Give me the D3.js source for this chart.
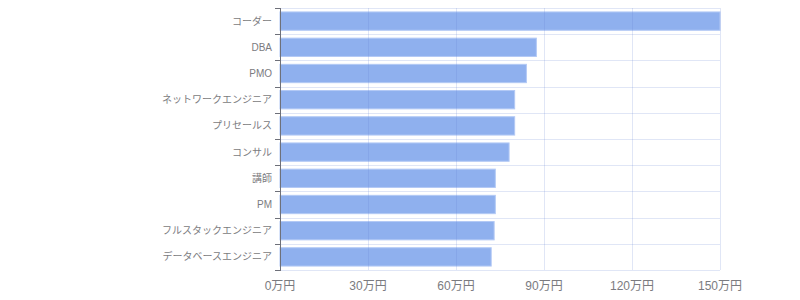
<!DOCTYPE html>
<html><head><meta charset="utf-8">
<script src="https://cdn.jsdelivr.net/npm/d3@7/dist/d3.min.js"></script>
<style>body{margin:0;background:#fff}svg{display:block}</style>
</head><body><svg id="c" width="800" height="300"></svg>
<script>
const categories = ["コーダー","DBA","PMO","ネットワークエンジニア","プリセールス","コンサル","講師","PM","フルスタックエンジニア","データベースエンジニア"];
const values = [150, 87.4, 84, 80, 80, 78.1, 73.4, 73.4, 73, 72];
const xTicks = [0, 30, 60, 90, 120, 150];
const tickSuffix = "万円";

const svg = d3.select("#c");
const m = {l: 280, r: 720, t: 8, b: 270};
const font = "'Liberation Sans', 'Noto Sans CJK JP', sans-serif";
const textColor = "#7b7b80";
const x = d3.scaleLinear().domain([0, 150]).range([m.l, m.r]);
const y = d3.scaleBand().domain(categories).range([m.t, m.b]).paddingInner(0.3).paddingOuter(0.15);
const yb = d3.scaleBand().domain(categories).range([m.t, m.b]);

// bars
svg.append("g").selectAll("rect").data(categories).join("rect")
  .attr("x", x(0))
  .attr("y", (d) => y(d))
  .attr("width", (d, i) => x(Math.min(values[i], 150)) - x(0))
  .attr("height", y.bandwidth())
  .attr("fill", "#8fb0ee")
  .attr("stroke", "#b3c9f5")
  .attr("stroke-width", 1);

// grid on top
const grid = svg.append("g").attr("stroke", "rgba(100,130,210,0.2)").attr("stroke-width", 1);
grid.selectAll("line.v").data(xTicks.slice(1)).join("line")
  .attr("x1", (d) => x(d) + 0.5).attr("x2", (d) => x(d) + 0.5).attr("y1", m.t).attr("y2", m.b);
const bounds = categories.map((c) => yb(c)).concat([m.b]);
grid.selectAll("line.h").data(bounds).join("line")
  .attr("x1", m.l).attr("x2", m.r).attr("y1", (d) => Math.round(d) + 0.5).attr("y2", (d) => Math.round(d) + 0.5);

// x axis labels
svg.append("g").selectAll("text").data(xTicks).join("text")
  .attr("x", (d) => x(d)).attr("y", 290)
  .attr("text-anchor", "middle")
  .attr("font-family", font).attr("font-size", 12).attr("fill", textColor)
  .text((d) => d + tickSuffix);

// y axis
const ya = svg.append("g");
ya.append("line").attr("x1", m.l + 0.5).attr("x2", m.l + 0.5).attr("y1", m.t).attr("y2", m.b + 1)
  .attr("stroke", "#6e7079").attr("stroke-width", 1);
ya.selectAll("line.t").data(bounds).join("line")
  .attr("x1", m.l - 5).attr("x2", m.l).attr("y1", (d) => Math.round(d) + 0.5).attr("y2", (d) => Math.round(d) + 0.5)
  .attr("stroke", "#6e7079");
ya.selectAll("text").data(categories).join("text")
  .attr("x", m.l - 8).attr("y", (d) => yb(d) + yb.bandwidth() / 2)
  .attr("dy", "0.35em").attr("text-anchor", "end")
  .attr("font-family", font).attr("font-size", 10).attr("fill", textColor)
  .text((d) => d);
</script></body></html>
